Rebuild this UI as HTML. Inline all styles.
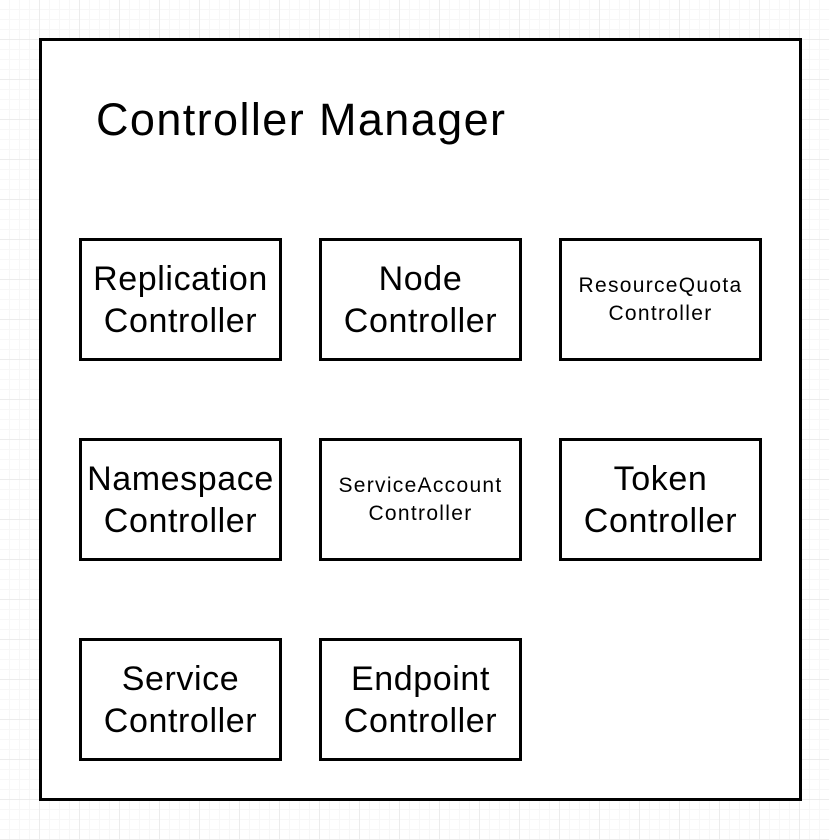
<!DOCTYPE html>
<html><head><style>
body{margin:0;width:829px;height:840px;position:relative;overflow:hidden;background:#fff;
background-image:linear-gradient(#ececec 1px,transparent 1px),linear-gradient(90deg,#ececec 1px,transparent 1px),linear-gradient(#f7f7f7 1px,transparent 1px),linear-gradient(90deg,#f7f7f7 1px,transparent 1px);
background-size:40px 40px,40px 40px,10px 10px,10px 10px;background-position:-1px -1px;
font-family:"Liberation Sans",Arial,sans-serif;color:#000}
.o{position:absolute;left:39px;top:38px;width:757px;height:757px;border:3px solid #000;background:#fff}
.t{position:absolute;left:96px;top:94px;font-size:45px;line-height:52px;letter-spacing:1.4px}
.b{position:absolute;width:197px;height:117px;border:3px solid #000;box-sizing:content-box;display:flex;align-items:center;justify-content:center;text-align:center;font-size:34px;line-height:42px;letter-spacing:0.6px;background:#fff;white-space:nowrap}
.s{font-size:21px;line-height:28px;letter-spacing:1.3px}
</style></head><body>
<div class="o"></div>
<div class="t">Controller Manager</div>
<div class="b" style="left:79px;top:238px">Replication<br>Controller</div>
<div class="b" style="left:319px;top:238px">Node<br>Controller</div>
<div class="b s" style="left:559px;top:238px">ResourceQuota<br>Controller</div>
<div class="b" style="left:79px;top:438px">Namespace<br>Controller</div>
<div class="b s" style="left:319px;top:438px">ServiceAccount<br>Controller</div>
<div class="b" style="left:559px;top:438px">Token<br>Controller</div>
<div class="b" style="left:79px;top:638px">Service<br>Controller</div>
<div class="b" style="left:319px;top:638px">Endpoint<br>Controller</div>
</body></html>
